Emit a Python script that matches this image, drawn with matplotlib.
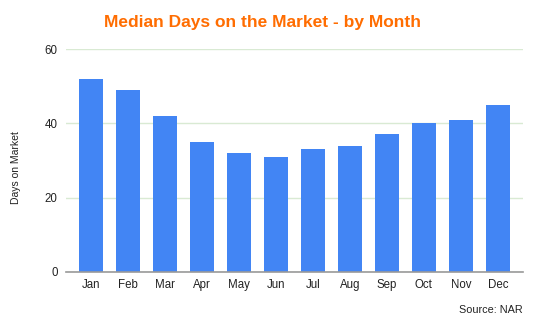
import matplotlib
matplotlib.use('Agg')
import matplotlib.pyplot as plt

# Data
months = ['Jan', 'Feb', 'Mar', 'Apr', 'May', 'Jun',
          'Jul', 'Aug', 'Sep', 'Oct', 'Nov', 'Dec']
days_on_market = [52, 49, 42, 35, 32, 31, 33, 34, 37, 40, 41, 45]
y_ticks = [0, 20, 40, 60]

plt.rcParams['font.family'] = ['Liberation Sans', 'DejaVu Sans']

fig = plt.figure(figsize=(5.35, 3.29), dpi=100)
ax = fig.add_axes([66 / 535, 1 - 272 / 329, (523 - 66) / 535, (272 - 49) / 329])

x = range(len(months))
ax.bar(x, days_on_market, width=0.65, color='#4285f4', zorder=3)

# Axes formatting
ax.set_xlim(-0.68, len(months) - 0.32)
ax.set_ylim(0, 60)
ax.set_yticks(y_ticks)
ax.set_xticks(list(x))
ax.set_xticklabels(months)
ax.tick_params(axis='both', length=0, labelsize=8.3, colors='#222222')
ax.tick_params(axis='x', pad=5)
ax.tick_params(axis='y', pad=6)
ax.grid(True, axis='y', color='#d9ead3', linewidth=1, zorder=0)

for side in ['top', 'right', 'left']:
    ax.spines[side].set_visible(False)
ax.spines['bottom'].set_color('#999999')
ax.spines['bottom'].set_linewidth(1.2)
ax.spines['bottom'].set_zorder(4)

ax.set_ylabel('Days on Market', fontsize=7.5, color='#222222')
ax.yaxis.set_label_coords(-0.098, 0.47)

fig.text(263 / 535, 1 - 22 / 329, 'Median Days on the Market - by Month',
         ha='center', va='center', fontsize=12.5, fontweight='bold', color='#ff6d01')
fig.text(523 / 535, 1 - 310 / 329, 'Source: NAR',
         ha='right', va='center', fontsize=7.8, color='#222222')

fig.savefig('out.png', dpi=100)
plt.close(fig)
